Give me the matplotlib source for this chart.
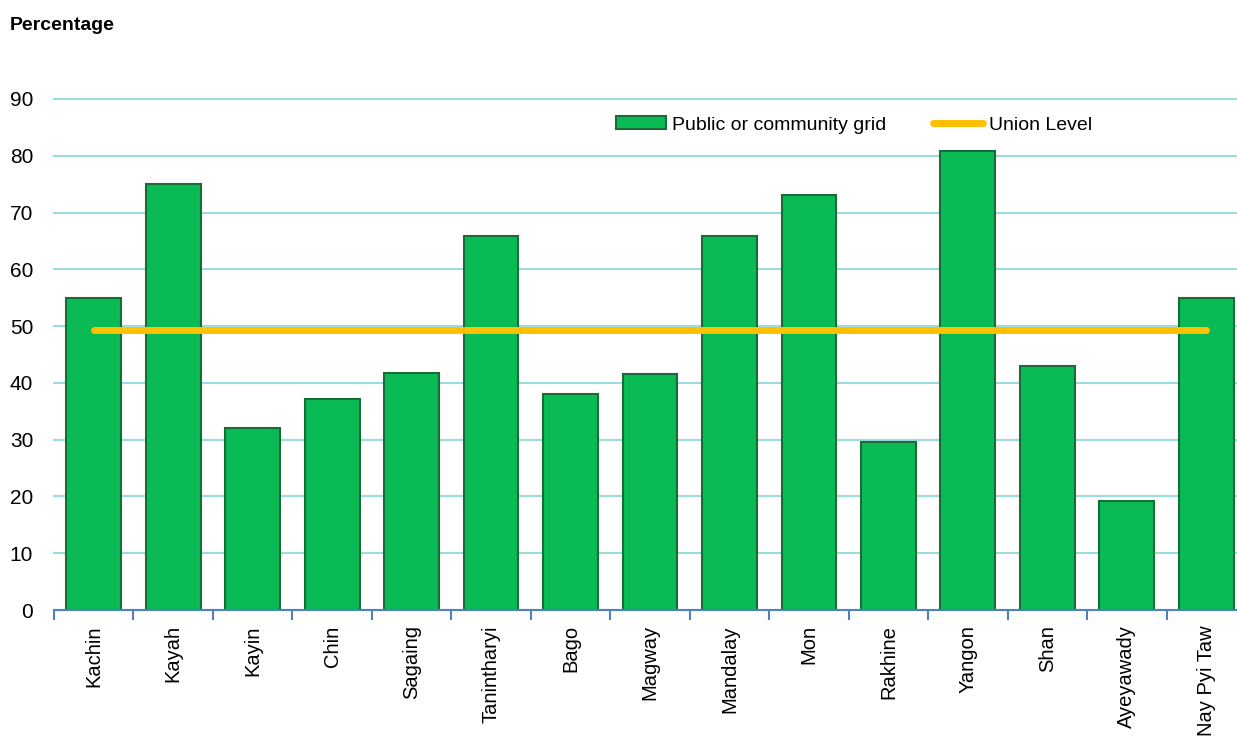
import matplotlib
matplotlib.use("Agg")
import matplotlib.pyplot as plt
import numpy as np
from matplotlib.patches import Patch
from matplotlib.lines import Line2D

regions = ["Kachin", "Kayah", "Kayin", "Chin", "Sagaing", "Tanintharyi", "Bago",
           "Magway", "Mandalay", "Mon", "Rakhine", "Yangon", "Shan", "Ayeyawady",
           "Nay Pyi Taw"]
grid_pct = [55.0, 75.0, 32.0, 37.2, 41.8, 65.8, 38.0, 41.6, 65.8, 73.1, 29.6, 80.8,
            43.0, 19.2, 55.0]
union_level = 49.4
yticks = [0, 10, 20, 30, 40, 50, 60, 70, 80, 90]

plt.rcParams['font.family'] = ['Liberation Sans', 'DejaVu Sans']

fig = plt.figure(figsize=(12.37, 7.42), dpi=100)
ax = fig.add_axes([54/1237, 1 - 610/742, (1246-54)/1237, (610-99)/742])

x = np.arange(len(regions))
ax.bar(x, grid_pct, width=0.69, color="#09BA55", edgecolor="#1A6B38",
       linewidth=1.5, zorder=3)
ax.plot(x, [union_level]*len(regions), color="#FFC000", linewidth=5,
        solid_capstyle="round", zorder=4)

ax.set_xlim(-0.5, len(regions) - 0.5)
ax.set_ylim(0, 90)
ax.set_yticks(yticks)
ax.yaxis.grid(True, color="#9ADCE0", linewidth=1.5, zorder=0)
for gl in ax.get_ygridlines():
    gl.set_clip_on(False)
ax.set_axisbelow(True)

for s in ["top", "right", "left"]:
    ax.spines[s].set_visible(False)
ax.spines["bottom"].set_color("#4F81BD")
ax.spines["bottom"].set_linewidth(1.5)
ax.spines["bottom"].set_zorder(5)

ax.tick_params(axis="y", length=0, labelsize=15, pad=15)
ax.set_xticks(x)
ax.set_xticklabels(regions, rotation=90, fontsize=14.5)
ax.tick_params(axis="x", which="major", length=0, pad=11)
ax.set_xticks(np.arange(-0.5, len(regions), 1), minor=True)
ax.tick_params(axis="x", which="minor", length=7, width=1.5, color="#4F81BD",
               direction="out")

fig.text(10/1237, 1 - 25/742, "Percentage", fontsize=14, fontweight="bold",
         va="center", ha="left")

handles = [Patch(facecolor="#09BA55", edgecolor="#1A6B38", linewidth=1.5),
           Line2D([], [], color="#FFC000", linewidth=5, solid_capstyle="round")]
labels = ["Public or community grid", "Union Level"]
leg = ax.legend(handles, labels, loc="center left",
                bbox_to_anchor=((598-54)/1192, (610-125)/511), ncol=2,
                frameon=False, fontsize=14, handlelength=2.6, handleheight=0.6,
                handletextpad=0.3, columnspacing=2.4)

fig.savefig("out.png", dpi=100)
